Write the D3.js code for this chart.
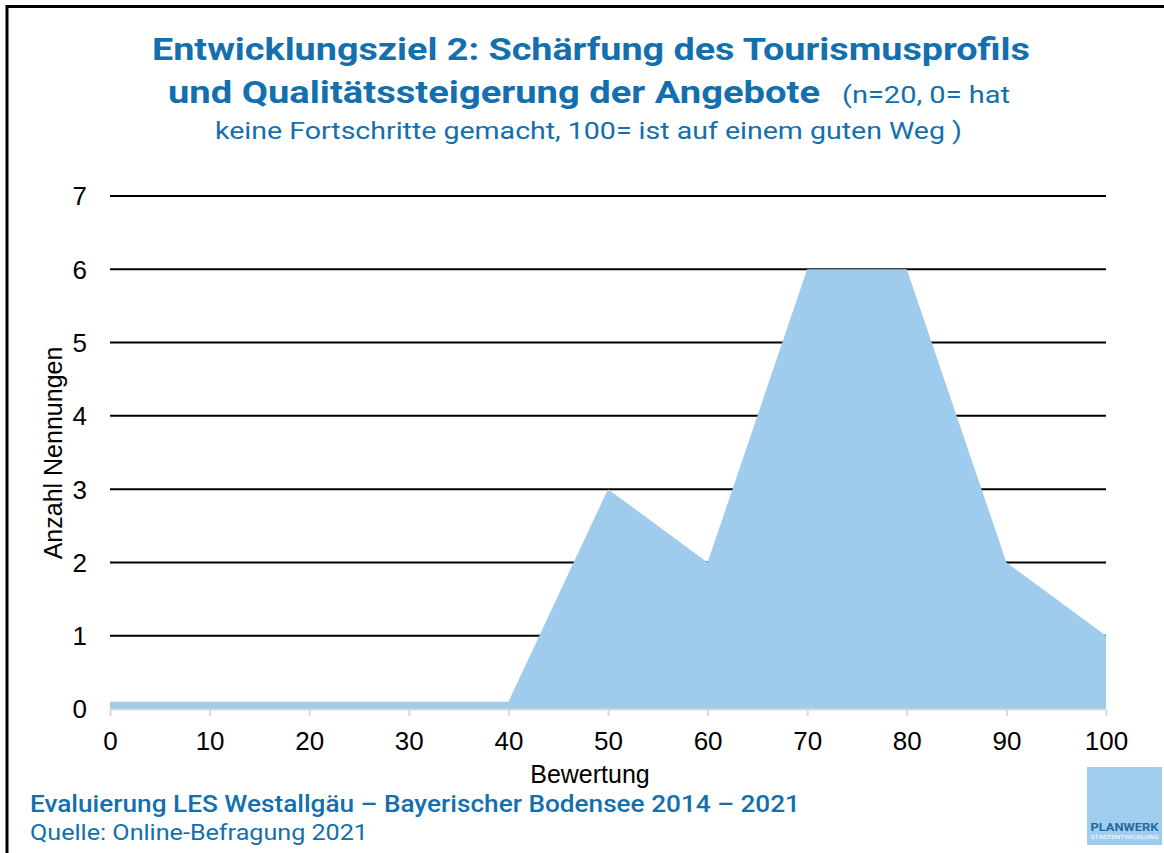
<!DOCTYPE html>
<html>
<head>
<meta charset="utf-8">
<script src="https://cdn.jsdelivr.net/npm/d3@7"></script>
<style>
  body { margin: 0; background: #fff; }
  svg { display: block; }
</style>
</head>
<body>
<div id="chart"></div>
<script>
// data
var bewertung = [0, 10, 20, 30, 40, 50, 60, 70, 80, 90, 100];
var nennungen = [0.1, 0.1, 0.1, 0.1, 0.1, 3, 2, 6, 6, 2, 1];
var yTicks = [0, 1, 2, 3, 4, 5, 6, 7];
var xTicks = [0, 10, 20, 30, 40, 50, 60, 70, 80, 90, 100];

var width = 1164, height = 853;
var blue = "#136fae";
var axisFont = "Liberation Sans, Arial, sans-serif";
var titleFont = "Roboto, 'Noto Sans', sans-serif";

var svg = d3.select("#chart").append("svg")
  .attr("width", width)
  .attr("height", height);

// frame (top + left)
svg.append("line").attr("x1", 6.5).attr("x2", width).attr("y1", 6.5).attr("y2", 6.5)
  .attr("stroke", "#000").attr("stroke-width", 3);
svg.append("line").attr("x1", 7).attr("x2", 7).attr("y1", 5).attr("y2", height)
  .attr("stroke", "#000").attr("stroke-width", 3);

var x = d3.scaleLinear().domain([0, 100]).range([110, 1106]);
var y = d3.scaleLinear().domain([0, 7]).range([709, 196]);

// gridlines
svg.append("g").selectAll("line")
  .data(yTicks.filter(d => d > 0))
  .enter().append("line")
  .attr("x1", x(0)).attr("x2", x(100))
  .attr("y1", d => y(d)).attr("y2", d => y(d))
  .attr("stroke", "#000").attr("stroke-width", 2);

// area
var area = d3.area()
  .x((d, i) => x(bewertung[i]))
  .y0(y(0))
  .y1(d => y(d));

svg.append("path")
  .datum(nennungen)
  .attr("d", area)
  .attr("fill", "#9fcbed");

// x axis
var xAxis = svg.append("g")
  .attr("transform", "translate(0," + y(0) + ")")
  .call(d3.axisBottom(x).tickValues(xTicks).tickSize(7).tickSizeOuter(0));
xAxis.select(".domain").attr("stroke", "#d9d9d9").attr("stroke-width", 2);
xAxis.selectAll(".tick line").attr("stroke", "#d9d9d9").attr("stroke-width", 2);
xAxis.selectAll(".tick text")
  .attr("y", 41).attr("dy", 0)
  .attr("font-family", axisFont)
  .attr("font-size", 26).attr("fill", "#000");

// y axis labels
svg.append("g").selectAll("text")
  .data(yTicks)
  .enter().append("text")
  .attr("x", 87)
  .attr("y", d => y(d))
  .attr("dy", "0.36em")
  .attr("text-anchor", "end")
  .attr("font-family", axisFont)
  .attr("font-size", 26)
  .text(d => d);

// axis titles
svg.append("text")
  .attr("transform", "translate(62,453) rotate(-90)")
  .attr("text-anchor", "middle")
  .attr("font-family", axisFont)
  .attr("font-size", 25)
  .text("Anzahl Nennungen");

svg.append("text")
  .attr("x", 590).attr("y", 783)
  .attr("text-anchor", "middle")
  .attr("font-family", axisFont)
  .attr("font-size", 25)
  .text("Bewertung");

// title
svg.append("text")
  .attr("x", 152).attr("y", 60)
  .attr("font-family", titleFont).attr("font-weight", "bold")
  .attr("font-size", 32).attr("fill", blue)
  .attr("textLength", 878).attr("lengthAdjust", "spacingAndGlyphs")
  .text("Entwicklungsziel 2: Schärfung des Tourismusprofils");

svg.append("text")
  .attr("x", 168).attr("y", 103)
  .attr("font-family", titleFont).attr("font-weight", "bold")
  .attr("font-size", 32).attr("fill", blue)
  .attr("textLength", 652).attr("lengthAdjust", "spacingAndGlyphs")
  .text("und Qualitätssteigerung der Angebote");

svg.append("text")
  .attr("x", 842).attr("y", 103)
  .attr("font-family", titleFont)
  .attr("font-size", 23).attr("fill", blue)
  .attr("textLength", 168).attr("lengthAdjust", "spacingAndGlyphs")
  .text("(n=20, 0= hat");

svg.append("text")
  .attr("x", 215).attr("y", 139)
  .attr("font-family", titleFont)
  .attr("font-size", 23).attr("fill", blue)
  .attr("textLength", 747).attr("lengthAdjust", "spacingAndGlyphs")
  .text("keine Fortschritte gemacht, 100= ist auf einem guten Weg )");

// footer
svg.append("text")
  .attr("x", 30).attr("y", 812)
  .attr("font-family", titleFont).attr("font-weight", 500)
  .attr("font-size", 23).attr("fill", blue)
  .attr("textLength", 770).attr("lengthAdjust", "spacingAndGlyphs")
  .text("Evaluierung LES Westallgäu – Bayerischer Bodensee 2014 – 2021");

svg.append("text")
  .attr("x", 30).attr("y", 840)
  .attr("font-family", titleFont)
  .attr("font-size", 22).attr("fill", blue)
  .attr("textLength", 338).attr("lengthAdjust", "spacingAndGlyphs")
  .text("Quelle: Online-Befragung 2021");

// logo
var logo = svg.append("g").attr("transform", "translate(1087,767)");
logo.append("rect").attr("width", 75).attr("height", 78).attr("fill", "#a0cdee");
logo.append("text")
  .attr("x", 37.5).attr("y", 64)
  .attr("text-anchor", "middle")
  .attr("font-family", titleFont).attr("font-weight", "bold")
  .attr("font-size", 10).attr("fill", "#1f6aa5")
  .attr("textLength", 68).attr("lengthAdjust", "spacingAndGlyphs")
  .text("PLANWERK");
logo.append("text")
  .attr("x", 37.5).attr("y", 72)
  .attr("text-anchor", "middle")
  .attr("font-family", titleFont)
  .attr("font-size", 5).attr("fill", "#fff")
  .attr("textLength", 68).attr("lengthAdjust", "spacingAndGlyphs")
  .text("STADTENTWICKLUNG");
</script>
</body>
</html>
